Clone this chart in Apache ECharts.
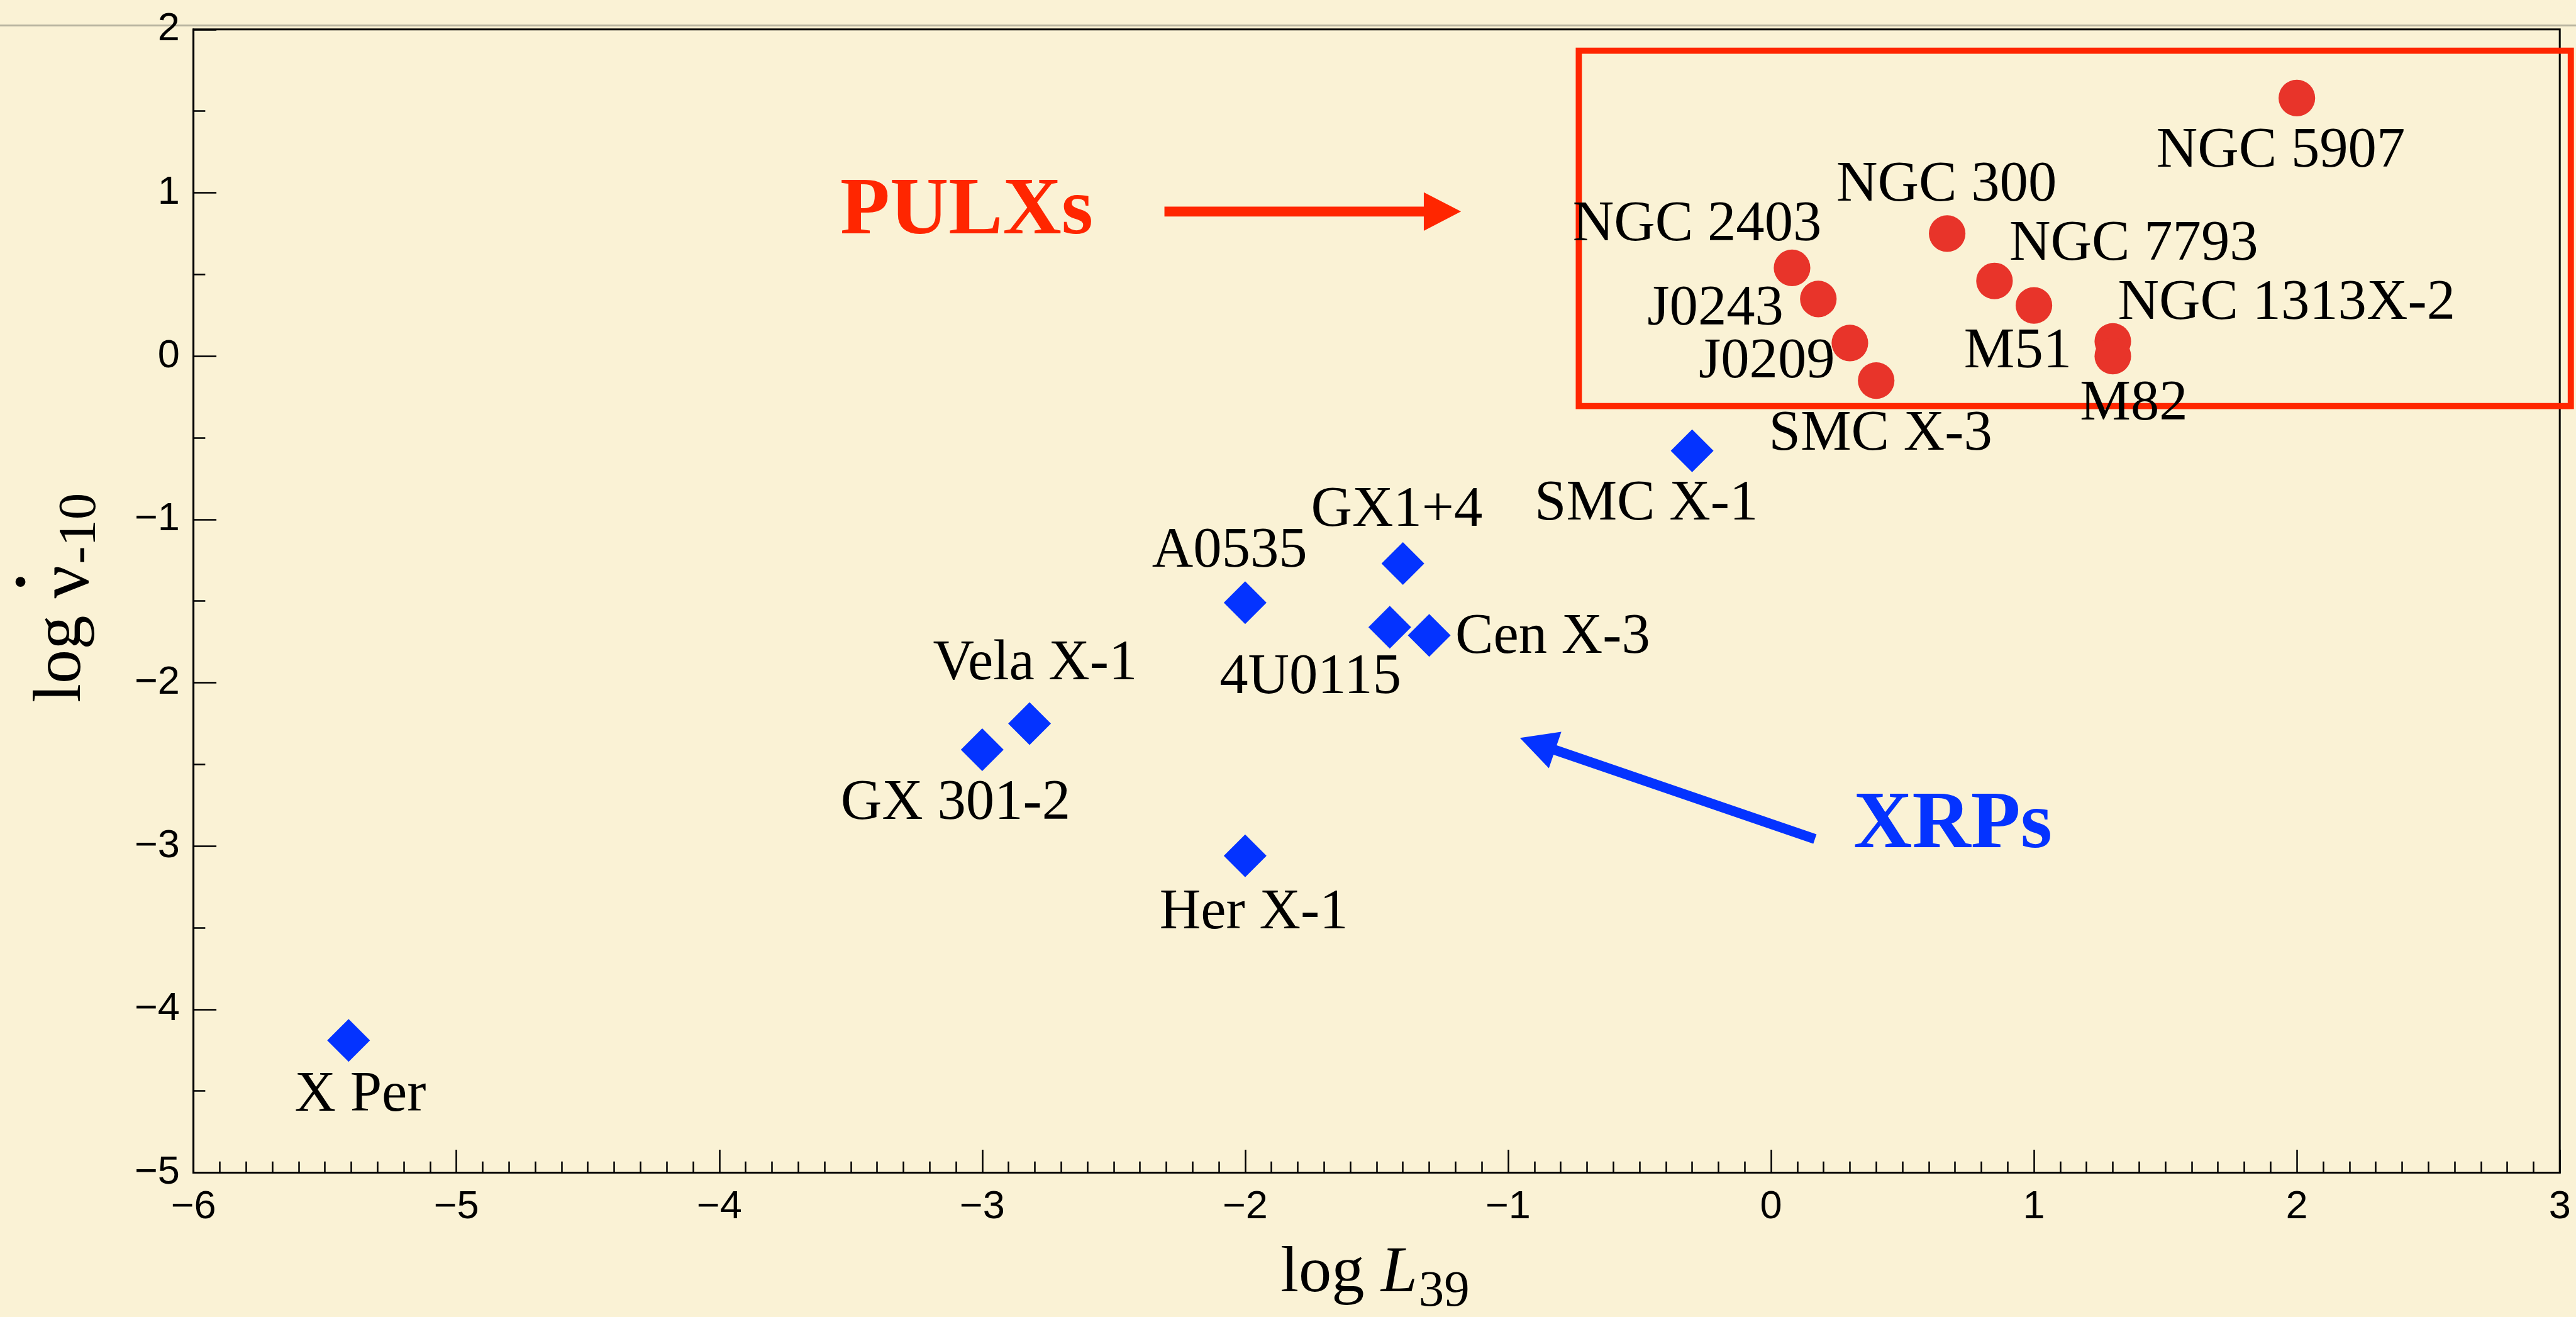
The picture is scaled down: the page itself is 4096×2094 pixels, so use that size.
<!DOCTYPE html>
<html>
<head>
<meta charset="utf-8">
<script src="https://cdn.jsdelivr.net/npm/echarts@6/dist/echarts.min.js"></script>
<style>
html,body{margin:0;padding:0;background:#faf2d5;}
#c{width:4096px;height:2094px;}
</style>
</head>
<body>
<div id="c"></div>
<script>
// ---------- DATA ----------
const xrpNames = ['X Per','Her X-1','GX 301-2','Vela X-1','A0535','GX1+4','4U0115','Cen X-3','SMC X-1'];
const xrpLogL  = [-5.41, -2.00, -3.00, -2.82, -2.00, -1.40, -1.45, -1.30, -0.30];
const xrpLogNu = [-4.19, -3.06, -2.41, -2.25, -1.51, -1.27, -1.66, -1.71, -0.58];

const pulxNames = ['NGC 5907','NGC 300','NGC 2403','NGC 7793','J0243','M51','J0209','NGC 1313X-2','SMC X-3','M82'];
const pulxLogL  = [2.00, 0.67, 0.08, 0.85, 0.18, 1.00, 0.30, 1.30, 0.40, 1.30];
const pulxLogNu = [1.58, 0.75, 0.54, 0.46, 0.35, 0.31, 0.08, 0.09, -0.15, 0.00];

const xTicks = [-6,-5,-4,-3,-2,-1,0,1,2,3];
const yTicks = [-5,-4,-3,-2,-1,0,1,2];

// ---------- LAYOUT (reference px, scaled below) ----------
const S = 0.986;
// label offsets from marker centre [dx, dy, align]
const xrpLabelPos = [[19,89,'center'],[14,93,'center'],[-43,87,'center'],[9,-96,'center'],[-25,-82,'center'],
                     [-10,-85,'center'],[-128,82,'center'],[42,4,'left'],[-74,87,'center']];
const pulxLabelPos = [[-26,86,'center'],[-1,-77,'center'],[-153,-69,'center'],[24,-58,'left'],[-166,17,'center'],
                      [-26,76,'center'],[-134,31,'center'],[8,-60,'left'],[7,87,'center'],[34,78,'center']];

const SERIF = '"Liberation Serif","Times New Roman",Times,serif';
const SANS  = '"Liberation Sans",Arial,Helvetica,sans-serif';
const RED_BOX = '#ff2600';
const RED_PT = '#e8342a';
const BLUE = '#0433ff';

const fmt = v => (v < 0 ? '\u2212' + Math.abs(v) : String(v));

function mkData(xs, ys, names, pos) {
  return xs.map((x, i) => ({
    value: [x, ys[i]],
    name: names[i],
    label: { offset: [pos[i][0] * S, pos[i][1] * S], align: pos[i][2] }
  }));
}

const labelBase = {
  show: true, position: 'inside', formatter: '{b}', opacity: 1,
  fontFamily: SERIF, fontSize: 92 * S, color: '#000', verticalAlign: 'middle',
  textBorderWidth: 0
};

const chart = echarts.init(document.getElementById('c'), null, { renderer: 'canvas' });

const axisCommon = {
  type: 'value',
  axisLine: { show: true, onZero: false, lineStyle: { color: '#000', width: 3 } },
  axisTick: { show: true, inside: true, length: 37 * S, lineStyle: { color: '#000', width: 2.5 } },
  splitLine: { show: false },
  minorSplitLine: { show: false },
  axisLabel: { fontFamily: SANS, fontSize: 64 * S, color: '#000', formatter: fmt }
};

chart.setOption({
  animation: false,
  backgroundColor: '#faf2d5',
  grid: {
    left: 312 * S, top: 47.5 * S, width: (4128 - 312) * S, height: (1891 - 47.5) * S,
    show: true, borderColor: '#000', borderWidth: 3, backgroundColor: 'transparent'
  },
  xAxis: Object.assign({}, axisCommon, {
    min: xTicks[0], max: xTicks[xTicks.length - 1], interval: 1,
    minorTick: { show: true, splitNumber: 10, length: 18 * S, lineStyle: { color: '#000', width: 2.5 } },
    axisLabel: Object.assign({}, axisCommon.axisLabel, { margin: 24 * S })
  }),
  yAxis: Object.assign({}, axisCommon, {
    min: yTicks[0], max: yTicks[yTicks.length - 1], interval: 1,
    minorTick: { show: true, splitNumber: 2, length: 19 * S, lineStyle: { color: '#000', width: 2.5 } },
    axisLabel: Object.assign({}, axisCommon.axisLabel, { margin: 22 * S })
  }),
  series: [
    {
      name: 'XRPs', type: 'scatter', symbol: 'diamond', symbolSize: 69 * S,
      itemStyle: { color: BLUE, opacity: 1 }, label: labelBase, emphasis: { disabled: true },
      data: mkData(xrpLogL, xrpLogNu, xrpNames, xrpLabelPos)
    },
    {
      name: 'PULXs', type: 'scatter', symbol: 'circle', symbolSize: 59 * S,
      itemStyle: { color: RED_PT, opacity: 1 }, label: labelBase, emphasis: { disabled: true },
      data: mkData(pulxLogL, pulxLogNu, pulxNames, pulxLabelPos)
    }
  ]
});

// ---------- annotations ----------
const px = (x, y) => chart.convertToPixel({ gridIndex: 0 }, [x, y]);
const mctx = document.createElement('canvas').getContext('2d');
function tw(text, font) { mctx.font = font; return mctx.measureText(text).width; }

function arrowPoly(t, h, color) {
  const dx = h[0] - t[0], dy = h[1] - t[1], L = Math.hypot(dx, dy);
  const ux = dx / L, uy = dy / L, nx = -uy, ny = ux;
  const hl = 60 * S, hw = 31 * S, sw = 8 * S;
  const bx = h[0] - ux * hl, by = h[1] - uy * hl;
  return {
    type: 'polygon', silent: true,
    shape: { points: [
      [t[0] + nx * sw, t[1] + ny * sw], [bx + nx * sw, by + ny * sw], [bx + nx * hw, by + ny * hw],
      [h[0], h[1]], [bx - nx * hw, by - ny * hw], [bx - nx * sw, by - ny * sw], [t[0] - nx * sw, t[1] - ny * sw]
    ] },
    style: { fill: color }
  };
}

const boxTL = px(-0.731, 1.870), boxBR = px(3.042, -0.306);
const pulxPos = px(-3.54, 0.882), xrpsPos = px(0.314, -2.88);
const g = [];
// thin grey slide line at top
g.push({ type: 'line', silent: true, shape: { x1: 0, y1: 41 * S, x2: 4096, y2: 41 * S },
         style: { stroke: '#b7b39f', lineWidth: 3 } });
// PULX box
g.push({ type: 'rect', silent: true,
         shape: { x: boxTL[0], y: boxTL[1], width: boxBR[0] - boxTL[0], height: boxBR[1] - boxTL[1] },
         style: { fill: null, stroke: RED_BOX, lineWidth: 10 * S } });
g.push(arrowPoly(px(-2.307, 0.885), px(-1.179, 0.885), RED_BOX));
g.push(arrowPoly(px(0.167, -2.957), px(-0.955, -2.338), BLUE));
const bigF = 131 * S;
g.push({ type: 'text', silent: true, x: pulxPos[0], y: pulxPos[1],
         style: { text: 'PULXs', fontFamily: SERIF, fontWeight: 'bold', fontSize: bigF, fill: RED_BOX,
                  align: 'left', verticalAlign: 'middle' } });
g.push({ type: 'text', silent: true, x: xrpsPos[0], y: xrpsPos[1],
         style: { text: 'XRPs', fontFamily: SERIF, fontWeight: 'bold', fontSize: bigF, fill: BLUE,
                  align: 'left', verticalAlign: 'middle' } });

// x-axis title: log L_39
(function () {
  const F = 106 * S, f = 82 * S, x0 = 2065 * S, yb = 2090 * S;
  const w1 = tw('log ', `${F}px ${SERIF}`);
  const w2 = tw('L', `italic ${F}px ${SERIF}`);
  g.push({ type: 'text', silent: true, x: x0, y: yb - 0.3375 * F,
           style: { text: 'log', fontFamily: SERIF, fontSize: F, fill: '#000', align: 'left', verticalAlign: 'middle' } });
  g.push({ type: 'text', silent: true, x: x0 + w1, y: yb - 0.3375 * F,
           style: { text: 'L', fontFamily: SERIF, fontStyle: 'italic', fontSize: F, fill: '#000', align: 'left', verticalAlign: 'middle' } });
  g.push({ type: 'text', silent: true, x: x0 + w1 + w2 + 2 * S, y: yb + 22 * S - 0.3375 * f,
           style: { text: '39', fontFamily: SERIF, fontSize: f, fill: '#000', align: 'left', verticalAlign: 'middle' } });
})();

// y-axis title: log nu-dot _-10 (rotated)
(function () {
  const F = 110 * S, Fn = 118 * S, f = 86 * S;
  const w1 = tw('log ', `${F}px ${SERIF}`);
  const wn = tw('\u03BD', `${Fn}px ${SERIF}`);
  const kids = [];
  kids.push({ type: 'text', x: 0, y: -0.3375 * F,
              style: { text: 'log', fontFamily: SERIF, fontSize: F, fill: '#000', align: 'left', verticalAlign: 'middle' } });
  kids.push({ type: 'text', x: w1, y: 14 * S - 0.3375 * Fn,
              style: { text: '\u03BD', fontFamily: SERIF, fontSize: Fn, fill: '#000', align: 'left', verticalAlign: 'middle' } });
  kids.push({ type: 'circle', shape: { cx: w1 + wn / 2, cy: -104 * S, r: 8 * S }, style: { fill: '#000' } });
  kids.push({ type: 'text', x: w1 + wn + 2 * S, y: 23 * S - 0.3375 * f,
              style: { text: '-10', fontFamily: SERIF, fontSize: f, fill: '#000', align: 'left', verticalAlign: 'middle' } });
  g.push({ type: 'group', silent: true, x: 137 * S, y: 1133 * S, rotation: Math.PI / 2, children: kids });
})();

chart.setOption({ graphic: g });
</script>
</body>
</html>
